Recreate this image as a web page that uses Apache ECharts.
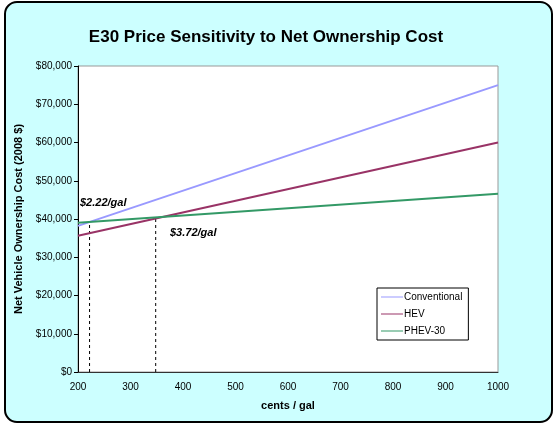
<!DOCTYPE html>
<html><head><meta charset="utf-8">
<script src="https://cdn.jsdelivr.net/npm/echarts@6/dist/echarts.min.js"></script>
<style>html,body{margin:0;padding:0;background:#fff}#c{width:556px;height:427px}</style>
</head><body><div id="c"></div>
<script>
const xPoints = [200, 1000];
const conventional = [38200, 75000];
const hev = [35600, 60000];
const phev30 = [39000, 46600];
const breakEvenCents = [222, 348];
const breakEvenLabels = ['$2.22/gal', '$3.72/gal'];
const yTicks = [0, 10000, 20000, 30000, 40000, 50000, 60000, 70000, 80000];

function interp(arr, x) {
  return arr[0] + (arr[1] - arr[0]) * (x - xPoints[0]) / (xPoints[1] - xPoints[0]);
}
const pair = a => xPoints.map((x, i) => [x, a[i]]);
const FONT = 'Liberation Sans, Arial, sans-serif';

const chart = echarts.init(document.getElementById('c'), null, {renderer: 'canvas'});
const dashSeries = breakEvenCents.map((c, i) => ({
  type: 'line', name: 'be' + i, silent: true, symbol: 'none',
  data: [[c, 0], [c, interp(phev30, c)]],
  lineStyle: {color: '#000', width: 1, type: [3, 3]}, z: 1
}));
chart.setOption({
  backgroundColor: '#fff',
  animation: false,
  graphic: [{type: 'rect', shape: {x: 5, y: 2, width: 547, height: 420, r: 12}, style: {fill: '#ccffff', stroke: '#000', lineWidth: 2}, z: -10, silent: true},
    {type: 'text', left: 80, top: 197, style: {text: breakEvenLabels[0], font: 'italic bold 11px ' + FONT, fill: '#000'}, z: 10},
    {type: 'text', left: 170, top: 227, style: {text: breakEvenLabels[1], font: 'italic bold 11px ' + FONT, fill: '#000'}, z: 10}],
  title: {text: 'E30 Price Sensitivity to Net Ownership Cost', left: 261, textAlign: 'center', top: 24,
    textStyle: {fontFamily: FONT, fontWeight: 'bold', fontSize: 17, color: '#000'}},
  grid: {left: 78, top: 66, right: 58, bottom: 55, show: true, backgroundColor: '#fff', borderColor: '#999', borderWidth: 1},
  legend: {orient: 'vertical', left: 377, top: 288, width: 87, height: 56, padding: [4, 6, 4, 4], itemGap: 7,
    backgroundColor: '#fff', borderColor: '#000', borderWidth: 1, borderRadius: 0,
    itemWidth: 22, itemHeight: 10, icon: 'path://M0,4.5 L22,4.5 L22,5.5 L0,5.5 Z',
    data: ['Conventional', 'HEV', 'PHEV-30'],
    textStyle: {fontFamily: FONT, fontSize: 10, color: '#000', padding: [0, 0, 0, -4]}},
  xAxis: {type: 'value', min: 200, max: 1000, interval: 100,
    name: 'cents / gal', nameLocation: 'middle', nameGap: 28,
    nameTextStyle: {fontFamily: FONT, fontWeight: 'bold', fontSize: 11, color: '#000'},
    axisLine: {lineStyle: {color: '#333', width: 1}}, axisTick: {show: false},
    axisLabel: {fontFamily: FONT, fontSize: 10, color: '#000', margin: 10, formatter: v => String(v)},
    splitLine: {show: false}},
  yAxis: {type: 'value', min: yTicks[0], max: yTicks[yTicks.length - 1], interval: 10000,
    name: 'Net Vehicle Ownership Cost (2008 $)', nameLocation: 'middle', nameGap: 53,
    nameTextStyle: {fontFamily: FONT, fontWeight: 'bold', fontSize: 11, color: '#000'},
    axisLine: {show: true, lineStyle: {color: '#000', width: 1}},
    axisTick: {show: true, length: 4, lineStyle: {color: '#000'}},
    axisLabel: {fontFamily: FONT, fontSize: 10, color: '#000', margin: 6,
      formatter: v => '$' + v.toLocaleString('en-US')},
    splitLine: {show: false}},
  series: [
    {type: 'line', name: 'Conventional', data: pair(conventional), symbol: 'none', lineStyle: {color: '#9999ff', width: 2}, itemStyle: {color: '#9999ff'}, z: 3},
    {type: 'line', name: 'HEV', data: pair(hev), symbol: 'none', lineStyle: {color: '#993366', width: 2}, itemStyle: {color: '#993366'}, z: 3},
    {type: 'line', name: 'PHEV-30', data: pair(phev30), symbol: 'none', lineStyle: {color: '#339966', width: 2}, itemStyle: {color: '#339966'}, z: 3}
  ].concat(dashSeries)
});
</script></body></html>
